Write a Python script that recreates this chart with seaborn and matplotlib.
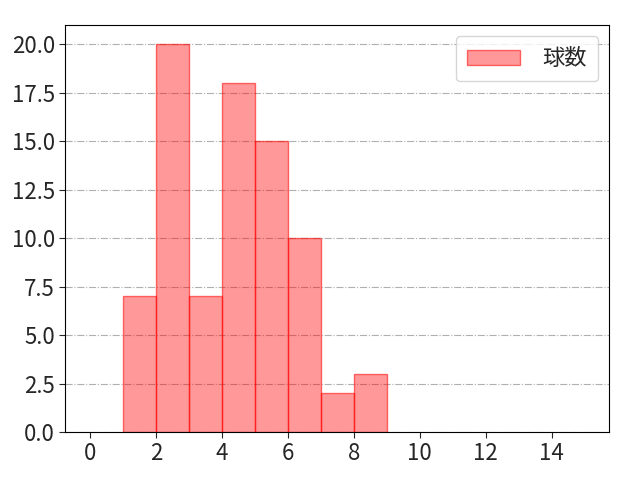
import matplotlib
matplotlib.use("Agg")
import matplotlib.pyplot as plt
import seaborn as sns
import pandas as pd

# pitch count per bin (bin left edge -> count)
bin_left = [1, 2, 3, 4, 5, 6, 7, 8]
counts = [7, 20, 7, 18, 15, 10, 2, 3]
bin_edges = list(range(1, 10))
label = "球数"

sns.set_style("white")
plt.rcParams['font.family'] = ['Noto Sans CJK JP', 'DejaVu Sans']

df = pd.DataFrame({"x": bin_left, "w": counts})

fig, ax = plt.subplots(figsize=(6.4, 4.8), dpi=100)
sns.histplot(data=df, x="x", weights="w", bins=bin_edges, ax=ax,
             color="red", alpha=0.4, edgecolor=(1, 0, 0, 0.55), linewidth=1,
             label=label)
ax.set_xlim(-0.75, 15.75)
ax.set_ylim(0, 21)
ax.set_xticks(range(0, 16, 2))
ax.set_yticks([0, 2.5, 5, 7.5, 10, 12.5, 15, 17.5, 20])
ax.set_yticklabels([f"{v:.1f}" for v in ax.get_yticks()])
ax.yaxis.grid(True, linestyle="-.", color="#b0b0b0", linewidth=0.8)
ax.set_axisbelow(True)
ax.set_xlabel("")
ax.set_ylabel("")
ax.tick_params(axis="both", labelsize=16, length=4, width=0.8, direction="out",
               bottom=True, left=True)
for s in ax.spines.values():
    s.set_color("black")
    s.set_linewidth(0.8)
ax.legend(fontsize=16, loc="upper right", handlelength=2.4, handletextpad=1.0,
          borderpad=0.5)
fig.subplots_adjust(left=0.102, right=0.952, top=0.948, bottom=0.1)
fig.savefig("out.png", dpi=100)
